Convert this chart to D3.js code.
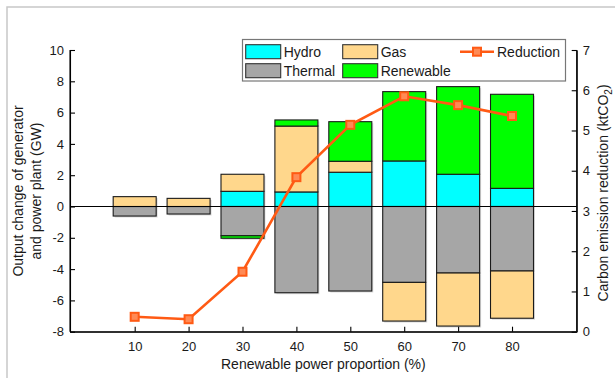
<!DOCTYPE html>
<html><head><meta charset="utf-8">
<script src="https://cdn.jsdelivr.net/npm/d3@7"></script>
<style>body{margin:0;background:#fff}svg{display:block;font-family:"Liberation Sans",Arial,sans-serif}</style>
</head><body>
<svg id="c" width="615" height="378"></svg>
<script>
const categories = [10, 20, 30, 40, 50, 60, 70, 80];
const hydro     = [0, 0, 0.97, 0.93, 2.19, 2.91, 2.06, 1.16];
const thermal   = [-0.61, -0.48, -1.87, -5.51, -5.40, -4.85, -4.25, -4.12];
const gas       = [0.63, 0.52, 1.09, 4.21, 0.70, -2.47, -3.39, -3.02];
const renewable = [0, 0, -0.16, 0.39, 2.53, 4.43, 5.60, 6.01];
const reduction = [0.37, 0.31, 1.49, 3.84, 5.14, 5.85, 5.63, 5.36];
const leftTicks = [-8, -6, -4, -2, 0, 2, 4, 6, 8, 10];
const rightTicks = [0, 1, 2, 3, 4, 5, 6, 7];

const seriesKeys = ["Hydro", "Thermal", "Gas", "Renewable"];
const colors = {Hydro: "#00FFFF", Thermal: "#A6A6A6", Gas: "#FFD78C", Renewable: "#00FF00"};
const lineColor = "#FF5A14";

const rows = categories.map((c, i) => ({cat: c, Hydro: hydro[i], Thermal: thermal[i], Gas: gas[i], Renewable: renewable[i]}));

const svg = d3.select("#c");
const L = 70, R = 576.7, T = 50, B = 331.7;

svg.append("path").attr("d", "M7,378V7H615").attr("fill", "none").attr("stroke", "#c8c8c8").attr("stroke-width", 1.5);

const x = d3.scaleLinear().domain([-2, 92]).range([L, R]);
const y = d3.scaleLinear().domain([-8, 10]).range([B, T]);
const y2 = d3.scaleLinear().domain([0, 7]).range([B, T]);
const bw = 43;

const stack = d3.stack().keys(seriesKeys).offset(d3.stackOffsetDiverging);
const stacked = stack(rows);

const g = svg.append("g");
stacked.forEach(s => {
  g.selectAll(null).data(s.filter(d => d[1] !== d[0])).enter().append("rect")
    .attr("x", d => x(d.data.cat) - bw / 2 + 1.5)
    .attr("y", d => y(Math.max(d[0], d[1])) + 1.5)
    .attr("width", bw)
    .attr("height", d => Math.abs(y(d[0]) - y(d[1])))
    .attr("fill", "#dcdcdc");
});
stacked.forEach(s => {
  g.selectAll(null).data(s.filter(d => d[1] !== d[0])).enter().append("rect")
    .attr("x", d => x(d.data.cat) - bw / 2)
    .attr("y", d => y(Math.max(d[0], d[1])))
    .attr("width", bw)
    .attr("height", d => Math.abs(y(d[0]) - y(d[1])))
    .attr("fill", colors[s.key])
    .attr("stroke", "#1a1a1a").attr("stroke-width", 1.1);
});

svg.append("line").attr("x1", L).attr("x2", R).attr("y1", y(0)).attr("y2", y(0)).attr("stroke", "#000").attr("stroke-width", 1.1);

const fontTick = "13px";
const ax = svg.append("g").attr("transform", `translate(0,${B})`)
  .call(d3.axisBottom(x).tickValues(categories).tickSizeInner(-5).tickSizeOuter(0).tickPadding(10));
const ay = svg.append("g").attr("transform", `translate(${L},0)`)
  .call(d3.axisLeft(y).tickValues(leftTicks).tickFormat(d3.format("d")).tickSizeInner(-5).tickSizeOuter(0).tickPadding(6));
const ay2 = svg.append("g").attr("transform", `translate(${R},0)`)
  .call(d3.axisRight(y2).tickValues(rightTicks).tickFormat(d3.format("d")).tickSizeInner(-5).tickSizeOuter(0).tickPadding(6));
[ax, ay, ay2].forEach(a => {
  a.selectAll("text").attr("font-size", fontTick).attr("fill", "#1a1a1a").attr("font-family", "Liberation Sans, Arial, sans-serif");
  a.selectAll("line,path").attr("stroke", "#000").attr("stroke-width", 1.1);
});
ay.selectAll("text").text(d => d < 0 ? "-" + Math.abs(d) : d);
svg.append("line").attr("x1", L).attr("x2", R).attr("y1", B).attr("y2", B).attr("stroke", "#000").attr("stroke-width", 1.1);
svg.append("line").attr("x1", L).attr("x2", L).attr("y1", T).attr("y2", B).attr("stroke", "#000").attr("stroke-width", 1.1);
svg.append("line").attr("x1", R).attr("x2", R).attr("y1", T).attr("y2", B).attr("stroke", "#000").attr("stroke-width", 1.1);

const line = d3.line().x((d, i) => x(categories[i])).y(d => y2(d));
svg.append("path").datum(reduction).attr("d", line).attr("fill", "none").attr("stroke", lineColor).attr("stroke-width", 2.6);
svg.selectAll(null).data(reduction).enter().append("rect")
  .attr("x", (d, i) => x(categories[i]) - 4).attr("y", d => y2(d) - 4)
  .attr("width", 8).attr("height", 8)
  .attr("fill", "#FF8A55").attr("stroke", lineColor).attr("stroke-width", 2);

const tf = "Liberation Sans, Arial, sans-serif";
svg.append("text").attr("x", (L + R) / 2).attr("y", 369).attr("text-anchor", "middle")
  .attr("font-size", "14px").attr("font-family", tf).attr("fill", "#1a1a1a").text("Renewable power proportion (%)");
const lt = svg.append("text").attr("transform", `translate(23,191) rotate(-90)`).attr("text-anchor", "middle")
  .attr("font-size", "14px").attr("font-family", tf).attr("fill", "#1a1a1a");
lt.append("tspan").attr("x", 0).attr("dy", 0).text("Output change of generator");
lt.append("tspan").attr("x", 0).attr("dy", 18).text("and power plant (GW)");
const rt = svg.append("text").attr("transform", `translate(608,193) rotate(-90)`).attr("text-anchor", "middle")
  .attr("font-size", "14px").attr("font-family", tf).attr("fill", "#1a1a1a");
rt.append("tspan").text("Carbon emission reduction (ktCO");
rt.append("tspan").attr("font-size", "10px").attr("dy", 4).text("2");
rt.append("tspan").attr("dy", -4).text(")");

const lg = svg.append("g");
lg.append("rect").attr("x", 242.5).attr("y", 39.5).attr("width", 323).attr("height", 41.5)
  .attr("fill", "#fff").attr("stroke", "#777").attr("stroke-width", 1.2);
const legItems = [
  {k: "Hydro", sx: 245.7, ty: 51.7},
  {k: "Gas", sx: 342.7, ty: 51.7},
  {k: "Thermal", sx: 245.7, ty: 70.7},
  {k: "Renewable", sx: 342.7, ty: 70.7}
];
legItems.forEach(it => {
  lg.append("rect").attr("x", it.sx).attr("y", it.ty - 7).attr("width", 35).attr("height", 14)
    .attr("fill", colors[it.k]).attr("stroke", "#333").attr("stroke-width", 1.1);
  lg.append("text").attr("x", it.sx + 38).attr("y", it.ty + 5).attr("font-size", "14px")
    .attr("font-family", tf).attr("fill", "#1a1a1a").text(it.k);
});
lg.append("line").attr("x1", 460).attr("x2", 494).attr("y1", 51.7).attr("y2", 51.7).attr("stroke", lineColor).attr("stroke-width", 2.6);
lg.append("rect").attr("x", 477 - 4).attr("y", 51.7 - 4).attr("width", 8).attr("height", 8)
  .attr("fill", "#FF8A55").attr("stroke", lineColor).attr("stroke-width", 2);
lg.append("text").attr("x", 497).attr("y", 56.7).attr("font-size", "14px").attr("font-family", tf).attr("fill", "#1a1a1a").text("Reduction");
</script>
</body></html>
